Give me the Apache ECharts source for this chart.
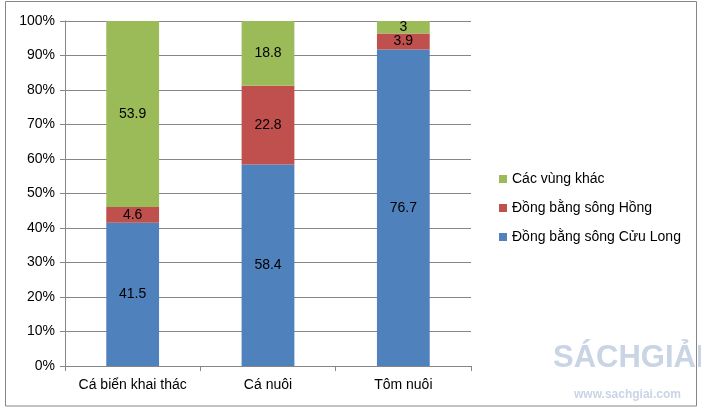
<!DOCTYPE html>
<html>
<head>
<meta charset="utf-8">
<script src="https://cdn.jsdelivr.net/npm/echarts@6/dist/echarts.min.js"></script>
<style>html,body{margin:0;padding:0;background:#fff}#c{width:701px;height:413px}</style>
</head>
<body>
<div id="c"></div>
<script>
var categories = ['Cá biển khai thác', 'Cá nuôi', 'Tôm nuôi'];
var seriesNames = ['Đồng bằng sông Cửu Long', 'Đồng bằng sông Hồng', 'Các vùng khác'];
var cuuLong = [41.5, 58.4, 76.7];
var hong = [4.6, 22.8, 3.9];
var khac = [53.9, 18.8, 3];
var yTicks = ['0%','10%','20%','30%','40%','50%','60%','70%','80%','90%','100%'];
var colors = ['#4f81bd', '#c0504d', '#9bbb59'];

var raw = [cuuLong, hong, khac];
var totals = categories.map(function(_, i){ return cuuLong[i] + hong[i] + khac[i]; });
var FONT = 'Liberation Sans, Arial, sans-serif';

var chart = echarts.init(document.getElementById('c'));
chart.setOption({
  animation: false,
  grid: {left: 65, right: 230, top: 21, bottom: 47, containLabel: false},
  legend: {
    orient: 'vertical', left: 494, top: 167,
    data: [seriesNames[2], seriesNames[1], seriesNames[0]],
    itemWidth: 8, itemHeight: 8, itemGap: 15,
    icon: 'rect',
    textStyle: {fontFamily: FONT, fontSize: 14, color: '#000'}
  },
  xAxis: {
    type: 'category', data: categories,
    axisLine: {lineStyle: {color: '#868686'}},
    axisTick: {show: true, length: 5, lineStyle: {color: '#868686'}},
    axisLabel: {fontFamily: FONT, fontSize: 14, color: '#000', margin: 12, interval: 0}
  },
  yAxis: {
    type: 'value', min: 0, max: 100, interval: 10,
    axisLine: {show: true, lineStyle: {color: '#868686'}},
    axisTick: {show: true, length: 5, lineStyle: {color: '#868686'}},
    splitLine: {lineStyle: {color: '#868686'}},
    axisLabel: {fontFamily: FONT, fontSize: 14, color: '#000', margin: 10,
      formatter: function(v){ return yTicks[Math.round(v/10)]; }}
  },
  series: raw.map(function(arr, k){
    return {
      name: seriesNames[k], type: 'bar', stack: 'all',
      barWidth: '39%',
      itemStyle: {color: colors[k]},
      label: {show: true, position: 'inside', fontFamily: FONT, fontSize: 14, color: '#000',
        formatter: function(p){ return String(arr[p.dataIndex]); }},
      data: arr.map(function(v, i){ return v / totals[i] * 100; })
    };
  }),
  graphic: [
    {type: 'rect', shape: {x: 5.5, y: 1.5, width: 691, height: 404.5},
     style: {fill: 'none', stroke: '#868686', lineWidth: 1}, z: -1},
    {type: 'text', left: 553, top: 343,
     style: {text: 'SÁCHGIẢI', font: 'bold 31px ' + FONT, fill: '#c9d4e4'}, z: -2},
    {type: 'text', left: 574, top: 389,
     style: {text: 'www.sachgiai.com', font: 'bold 12px ' + FONT, fill: '#c9d4e4'}, z: -2}
  ]
});
</script>
</body>
</html>
